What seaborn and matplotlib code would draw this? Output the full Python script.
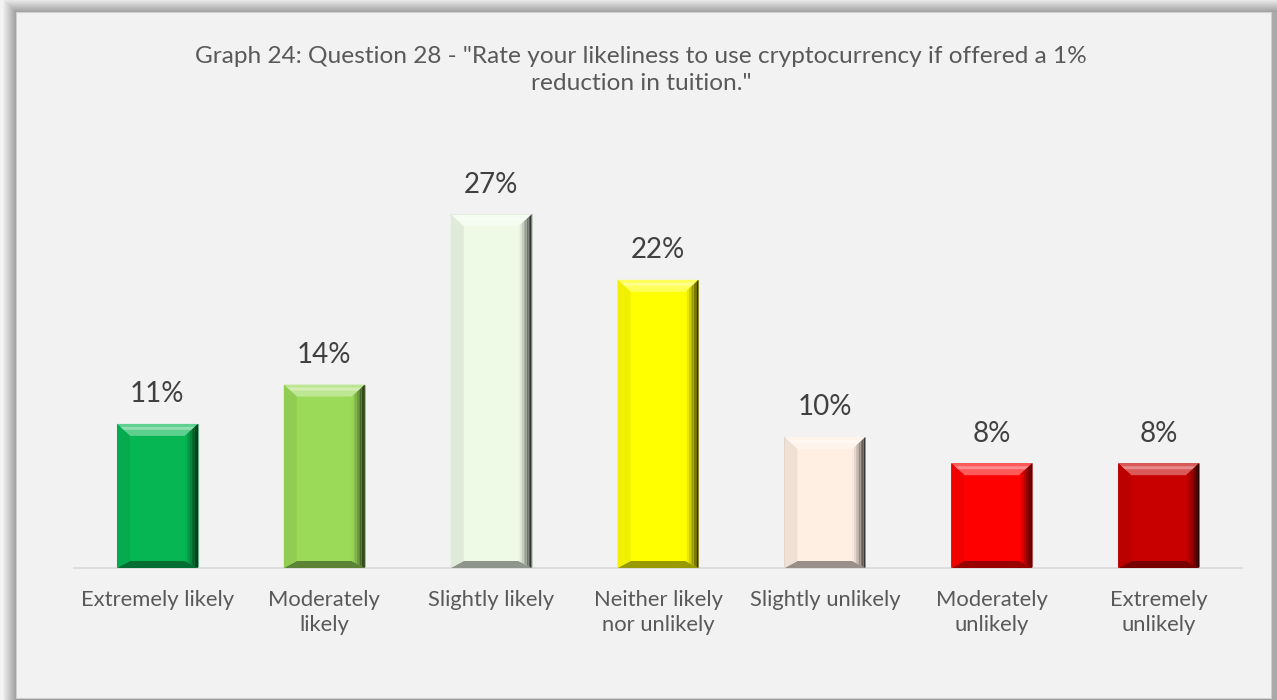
import numpy as np
import pandas as pd
import seaborn as sns
import matplotlib
matplotlib.use("Agg")
import matplotlib.pyplot as plt
from matplotlib.patches import Polygon, Rectangle
from matplotlib.colors import to_rgb

# Survey responses (share of respondents, %)
categories = [
    "Extremely likely",
    "Moderately\nlikely",
    "Slightly likely",
    "Neither likely\nnor unlikely",
    "Slightly unlikely",
    "Moderately\nunlikely",
    "Extremely\nunlikely",
]
percent = [11, 14, 27, 22, 10, 8, 8]
bar_colors = ["#05B653", "#9ADA58", "#EEF9E6", "#FFFF00", "#FFEEE2", "#FF0000", "#C80000"]
title = ('Graph 24: Question 28 - "Rate your likeliness to use cryptocurrency if offered a 1%\n'
         'reduction in tuition."')

sns.set_theme(style="white")
plt.rcParams["font.family"] = ["Lato", "DejaVu Sans"]

W, H = 1277, 700
fig = plt.figure(figsize=(W / 100, H / 100), dpi=100)
fig.patch.set_facecolor("#f3f3f3")


def fig_rect(x, y_top, w, h, **kw):
    """Rectangle in figure pixels, measured from the top-left corner."""
    r = Rectangle((x / W, (H - y_top - h) / H), w / W, h / H,
                  transform=fig.transFigure, **kw)
    fig.add_artist(r)
    return r


# Soft drop shadow along the top and left of the panel
light = np.array(to_rgb("#f4f4f4"))
dark = np.array(to_rgb("#9c9c9c"))
for k in range(14, -1, -1):
    t = k / 14
    c = dark * (1 - t) + light * t
    fig_rect(16 - k, 12 - k, W, H, facecolor=c, edgecolor="none", zorder=0)
fig_rect(1271, 12, 6, H, facecolor="#a9a9a9", edgecolor="none", zorder=0)
fig_rect(16, 12, 1255, 686, facecolor="#f2f2f2", edgecolor="#d0d0d0",
         linewidth=0.8, zorder=0)

fig.text(641 / W, 1 - 70 / H, title, ha="center", va="center",
         fontsize=17.6, color="#595959", linespacing=1.3)

ax = fig.add_axes([74 / W, 132 / H, 1168 / W, 393 / H])
ax.set_facecolor("none")
df = pd.DataFrame({"category": categories, "percent": percent})
sns.barplot(data=df, x="category", y="percent", hue="category",
            palette=bar_colors, legend=False, width=0.485, saturation=1,
            edgecolor="#00000033", linewidth=0.6, ax=ax)
ax.set_ylim(0, 30)
ax.set_xlim(-0.5, len(categories) - 0.5)
ax.set_xlabel("")
ax.set_ylabel("")
ax.set_yticks([])
for s in ["top", "left", "right"]:
    ax.spines[s].set_visible(False)
ax.spines["bottom"].set_color("#d9d9d9")
ax.spines["bottom"].set_linewidth(1.2)
ax.tick_params(axis="x", length=0, pad=16, labelsize=15.8, labelcolor="#595959")
for lbl in ax.get_xticklabels():
    lbl.set_linespacing(1.3)

for cont in ax.containers:
    ax.bar_label(cont, labels=[f"{v:.0f}%" for v in cont.datavalues],
                 padding=12, fontsize=20, color="#404040")

# Bevelled bar faces
fig.canvas.draw()
inv = ax.transData.inverted()


def mix(c, other, a):
    c = np.array(to_rgb(c))
    o = np.array(to_rgb(other))
    return tuple(c * (1 - a) + o * a)


def add_poly(pts, color, z=3):
    ax.add_patch(Polygon(inv.transform(np.array(pts)), closed=True,
                         facecolor=color, edgecolor="none", zorder=z))


for patch, col in zip(ax.patches, bar_colors):
    x0, w, h = patch.get_x(), patch.get_width(), patch.get_height()
    px0, py0 = ax.transData.transform((x0, 0))
    px1, py1 = ax.transData.transform((x0 + w, h))
    bx, bt, bb = 13, 12, 7
    # top face: light band
    add_poly([(px0, py1), (px1, py1), (px1 - bx, py1 - bt), (px0 + bx, py1 - bt)],
             mix(col, "white", 0.35))
    add_poly([(px0 + 3, py1 - 3), (px1 - 3, py1 - 3), (px1 - 6, py1 - 6), (px0 + 6, py1 - 6)],
             mix(col, "white", 0.55))
    # bottom face: darker band
    add_poly([(px0, py0), (px1, py0), (px1 - bx, py0 + bb), (px0 + bx, py0 + bb)],
             mix(col, "black", 0.4))
    # left face: gentle shading
    add_poly([(px0, py0), (px0, py1), (px0 + bx, py1 - bt), (px0 + bx, py0 + bb)],
             mix(col, "black", 0.06))
    # right face: graded to near-black at the edge
    n = 8
    for i in range(n):
        t0, t1 = i / n, (i + 1) / n
        pts = [(px1 - t0 * bx, py1 - t0 * bt), (px1 - t1 * bx, py1 - t1 * bt),
               (px1 - t1 * bx, py0 + t1 * bb), (px1 - t0 * bx, py0 + t0 * bb)]
        add_poly(pts, mix(col, "black", 0.85 * (1 - (t0 + t1) / 2) ** 1.3))

fig.savefig("out.png", dpi=100, facecolor=fig.get_facecolor())
